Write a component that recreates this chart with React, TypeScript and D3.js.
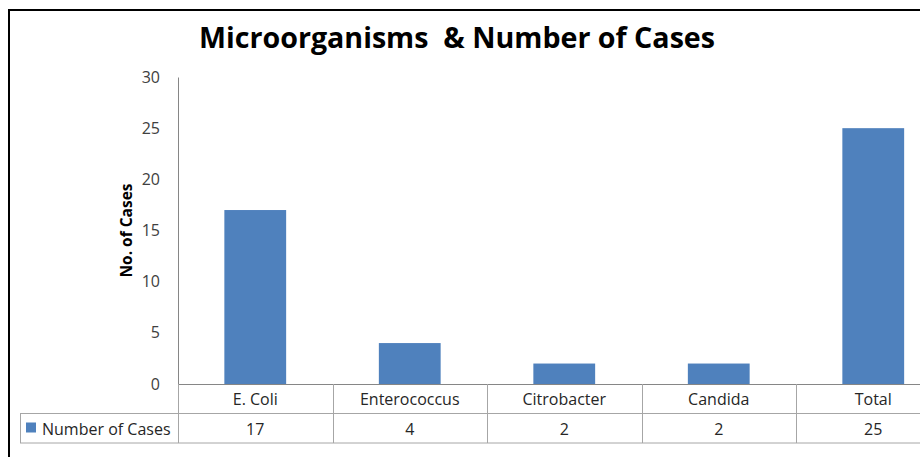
import React, { useEffect, useRef } from 'react';
import * as d3 from 'd3';

const categories = ['E. Coli', 'Enterococcus', 'Citrobacter', 'Candida', 'Total'];
const cases = [17, 4, 2, 2, 25];
const yTicks = [0, 5, 10, 15, 20, 25, 30];
const seriesName = 'Number of Cases';

const App = () => {
    const svgRef = useRef<SVGSVGElement>(null);

    useEffect(() => {
        const svg = d3.select(svgRef.current);
        svg.selectAll('*').remove();

        const font = 'Open Sans, Liberation Sans, sans-serif';
        const grey = '#868686';
        const left = 178;
        const step = 154.5;
        const top = 77;
        const bottom = 384;
        const rowH = 29.5;

        // chart frame (right and bottom run off the page)
        svg.append('path')
            .attr('d', 'M9,470 V10 H930')
            .attr('fill', 'none')
            .attr('stroke', '#000')
            .attr('stroke-width', 2);

        svg.append('text')
            .attr('x', 457)
            .attr('y', 48)
            .attr('text-anchor', 'middle')
            .attr('font-family', font)
            .attr('font-weight', 'bold')
            .attr('font-size', 29)
            .attr('textLength', 516)
            .attr('lengthAdjust', 'spacingAndGlyphs')
            .text('Microorganisms  & Number of Cases')
            .style('white-space', 'pre');

        const x = d3.scaleBand<string>()
            .domain(categories)
            .range([left, left + step * categories.length])
            .paddingInner(0.6)
            .paddingOuter(0.3);
        const y = d3.scaleLinear().domain([0, 30]).range([bottom, top]);

        const yAxis = svg.append('g')
            .attr('transform', `translate(${left},0)`)
            .call(d3.axisLeft(y).tickValues(yTicks).tickSize(0).tickPadding(18));
        yAxis.select('.domain').attr('stroke', grey);
        yAxis.selectAll('text')
            .attr('font-family', font)
            .attr('font-size', 16)
            .attr('fill', '#404040');

        svg.append('text')
            .attr('transform', `translate(132,${(top + bottom) / 2}) rotate(-90)`)
            .attr('text-anchor', 'middle')
            .attr('font-family', font)
            .attr('font-weight', 'bold')
            .attr('font-size', 15.5)
            .text('No. of Cases');

        svg.append('g')
            .selectAll('rect')
            .data(cases)
            .join('rect')
            .attr('x', (d, i) => x(categories[i])!)
            .attr('y', d => y(d))
            .attr('width', x.bandwidth())
            .attr('height', d => y(0) - y(d))
            .attr('fill', '#4F81BD');

        // data table
        const t = svg.append('g').attr('stroke', '#a6a6a6').attr('stroke-width', 1);
        const right = left + step * categories.length;
        t.append('line').attr('x1', left).attr('x2', right).attr('y1', bottom + 0.5).attr('y2', bottom + 0.5).attr('stroke', grey);
        t.append('line').attr('x1', 20).attr('x2', right).attr('y1', bottom + rowH).attr('y2', bottom + rowH);
        t.append('line').attr('x1', 20).attr('x2', right).attr('y1', bottom + rowH * 2).attr('y2', bottom + rowH * 2);
        t.append('line').attr('x1', 20.5).attr('x2', 20.5).attr('y1', bottom + rowH).attr('y2', bottom + rowH * 2);
        d3.range(categories.length + 1).forEach(i => {
            const xx = Math.round(left + step * i) + 0.5;
            t.append('line').attr('x1', xx).attr('x2', xx).attr('y1', bottom).attr('y2', bottom + rowH * 2);
        });

        const cx = (c: string) => x(c)! + x.bandwidth() / 2;
        svg.append('g')
            .selectAll('text')
            .data(categories)
            .join('text')
            .attr('x', d => cx(d))
            .attr('y', bottom + 21)
            .attr('text-anchor', 'middle')
            .attr('font-family', font)
            .attr('font-size', 16)
            .attr('fill', '#262626')
            .text(d => d);
        svg.append('g')
            .selectAll('text')
            .data(cases)
            .join('text')
            .attr('x', (d, i) => cx(categories[i]))
            .attr('y', bottom + rowH + 21)
            .attr('text-anchor', 'middle')
            .attr('font-family', font)
            .attr('font-size', 16)
            .attr('fill', '#262626')
            .text(d => d);

        svg.append('rect')
            .attr('x', 26).attr('y', bottom + rowH + 9)
            .attr('width', 10).attr('height', 10)
            .attr('fill', '#4F81BD');
        svg.append('text')
            .attr('x', 42)
            .attr('y', bottom + rowH + 21)
            .attr('font-family', font)
            .attr('font-size', 16)
            .attr('fill', '#262626')
            .text(seriesName);
    }, []);

    return (
        <svg ref={svgRef} width={920} height={457} style={{ position: 'absolute', left: 0, top: 0, background: '#fff' }}></svg>
    );
};

export default App;
